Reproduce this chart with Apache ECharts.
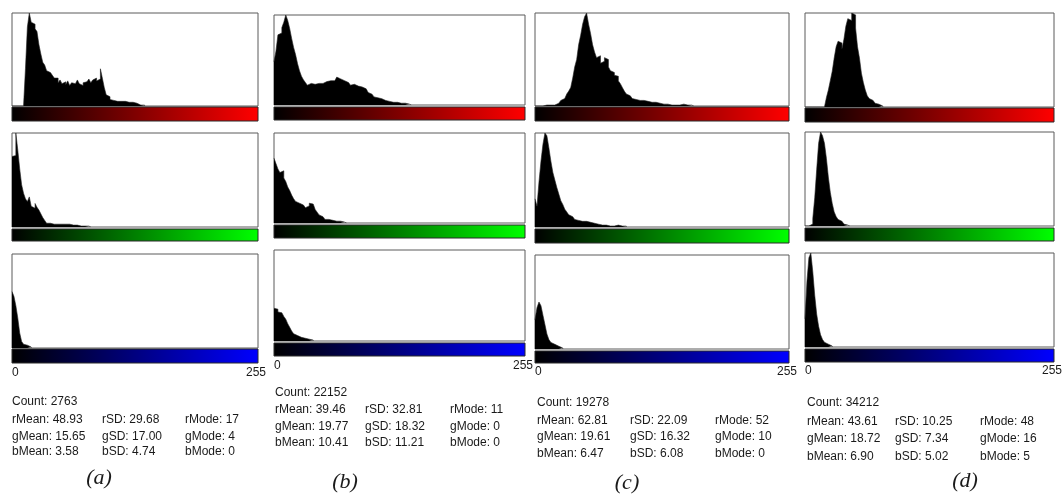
<!DOCTYPE html>
<html>
<head>
<meta charset="utf-8">
<script src="https://cdn.jsdelivr.net/npm/echarts@6/dist/echarts.min.js"></script>
<style>
  html, body { margin: 0; padding: 0; background: #fff; }
  #chart { width: 1062px; height: 494px; }
</style>
</head>
<body>
<div id="chart"></div>
<script>
// histogram heights in % of the box height, one value per 2 grey levels, starting at level 0
const aRed = [0,0,0,0,0,0,0,40,85,100,90,88,83,80,66,56,47,44,38,36,35,33,30,30,25,28,24,26,23,27,22,25,24,22,28,24,22,25,26,24,29,25,28,30,27,29,40,30,20,12,10,7,6,6,5,6,5,4,5,4,4,5,4,4,3,2,1,2,1];
const aGreen = [75,76,100,82,62,45,36,30,27,32,22,20,25,21,18,14,10,7,4,4,3,3,3,3,3,3,3,3,2,3,2,2,2,2,2,1,2,1,1,1,1];
const aBlue = [60,55,45,32,16,7,4,3,2,1];

const bRed = [48,60,78,80,86,92,100,94,85,74,64,56,46,38,32,28,25,22,24,22,23,22,24,23,24,24,26,25,27,28,27,29,31,29,28,27,26,25,24,22,23,21,21,20,20,19,18,16,14,12,10,9,8,7,7,6,5,5,4,4,3,3,3,2,2,2,2,1,1,1];
const bGreen = [72,66,60,56,58,50,46,40,36,31,27,24,22,21,20,19,17,19,22,21,19,15,12,9,7,5,4,4,3,3,3,2,2,2,1,1,1];
const bBlue = [36,35,32,31,30,27,24,19,15,11,8,6,4,4,3,3,2,2,2,1];

const cRed = [0,0,0,0,0,1,1,1,2,1,2,3,4,6,8,10,13,16,20,30,42,50,66,76,88,96,100,88,78,66,58,52,54,46,48,52,50,42,38,36,33,32,27,24,20,16,13,11,9,8,7,7,6,6,6,5,5,5,4,4,4,3,3,3,2,2,2,1,1,1,1,1,1,1,2,1,1,2,1,1];
const cGreen = [30,22,48,70,88,100,97,84,70,58,50,42,35,28,24,19,16,13,11,9,8,7,6,6,6,6,5,5,4,4,3,3,3,2,2,2,2,1,2,1,1,2,1,1,1,1];
const cBlue = [31,44,50,46,36,26,16,10,7,5,4,3,2,1];

const dRed = [0,0,0,0,0,0,0,0,0,0,2,10,18,28,38,52,64,70,68,62,72,86,94,92,100,98,84,64,52,36,26,18,12,9,7,5,4,3,2,1];
const dGreen = [0,0,0,2,8,30,60,88,100,96,88,72,52,36,24,15,10,7,5,3,2,1,1];
const dBlue = [30,70,95,100,80,55,35,22,13,8,5,3,2,1];

const axisLabels = ['0', '255'];
const captions = ['(a)', '(b)', '(c)', '(d)'];
const counts = ['2763', '22152', '19278', '34212'];
const means = [['48.93', '15.65', '3.58'], ['39.46', '19.77', '10.41'], ['62.81', '19.61', '6.47'], ['43.61', '18.72', '6.90']];
const sds = [['29.68', '17.00', '4.74'], ['32.81', '18.32', '11.21'], ['22.09', '16.32', '6.08'], ['10.25', '7.34', '5.02']];
const modes = [['17', '4', '0'], ['11', '0', '0'], ['52', '10', '0'], ['48', '16', '5']];

const hists = [[aRed, aGreen, aBlue], [bRed, bGreen, bBlue], [cRed, cGreen, cBlue], [dRed, dGreen, dBlue]];
const channelEnd = ['#ff0000', '#00ff00', '#0000ff'];
const channelTag = ['r', 'g', 'b'];

// layout in px
const panels = [
  { left: 12, right: 258, boxes: [[13, 106], [133, 227], [254, 348]], grads: [[107, 121], [229, 241], [349, 363]], labelY: 373, textX: [12, 102, 185], textY: [402, 420, 437, 452], cap: [99, 478] },
  { left: 274, right: 525, boxes: [[15, 105], [133, 223], [250, 341]], grads: [[107, 120], [225, 238], [343, 356]], labelY: 366, textX: [275, 365, 450], textY: [393, 410, 427, 443], cap: [345, 482] },
  { left: 535, right: 789, boxes: [[13, 106], [133, 227], [255, 349]], grads: [[107, 121], [229, 243], [351, 363]], labelY: 372, textX: [537, 630, 715], textY: [403, 421, 437, 454], cap: [627, 483] },
  { left: 805, right: 1054, boxes: [[13, 107], [132, 226], [253, 347]], grads: [[108, 122], [228, 241], [349, 362]], labelY: 371, textX: [807, 895, 980], textY: [403, 422, 439, 457], cap: [965, 481] }
];

const statFont = '12px "Liberation Sans", Arial, sans-serif';
const textColor = '#1a1a1a';

function toSteps(arr) {
  const pts = arr.map((v, i) => [i * 2, v]);
  pts.push([arr.length * 2, 0]);
  return pts;
}

const chart = echarts.init(document.getElementById('chart'));

const grid = [], xAxis = [], yAxis = [], series = [], graphic = [];

function addText(text, x, y, font, align) {
  graphic.push({
    type: 'text',
    style: { text, x, y, font, fill: textColor, textAlign: align || 'left', align: align || 'left', textVerticalAlign: 'middle', verticalAlign: 'middle' }
  });
}

panels.forEach((p, pi) => {
  const w = p.right - p.left;
  for (let c = 0; c < 3; c++) {
    const gi = pi * 3 + c;
    const [top, bottom] = p.boxes[c];
    grid.push({ left: p.left, top, width: w, height: bottom - top, show: true, borderColor: '#5a5a5a', borderWidth: 1, backgroundColor: '#fff' });
    xAxis.push({ type: 'value', gridIndex: gi, min: 0, max: 256, show: false });
    yAxis.push({ type: 'value', gridIndex: gi, min: 0, max: 100, show: false });
    series.push({
      type: 'line', xAxisIndex: gi, yAxisIndex: gi,
      data: toSteps(hists[pi][c]),
      step: 'end', showSymbol: false, silent: true,
      lineStyle: { width: 0.6, color: '#222' },
      areaStyle: { color: '#000', opacity: 1 }
    });
    const [gt, gb] = p.grads[c];
    graphic.push({
      type: 'rect',
      shape: { x: p.left, y: gt, width: w, height: gb - gt },
      style: {
        fill: new echarts.graphic.LinearGradient(0, 0, 1, 0, [
          { offset: 0, color: '#000' },
          { offset: 1, color: channelEnd[c] }
        ]),
        stroke: '#2a2a2a', lineWidth: 1
      }
    });
  }
  // 0 / 255 under the blue bar
  addText(axisLabels[0], p.left, p.labelY, statFont, 'left');
  addText(axisLabels[1], p.right - 2, p.labelY, statFont, 'center');

  // stats block
  addText('Count: ' + counts[pi], p.textX[0], p.textY[0], statFont);
  for (let c = 0; c < 3; c++) {
    const y = p.textY[c + 1];
    addText(channelTag[c] + 'Mean: ' + means[pi][c], p.textX[0], y, statFont);
    addText(channelTag[c] + 'SD: ' + sds[pi][c], p.textX[1], y, statFont);
    addText(channelTag[c] + 'Mode: ' + modes[pi][c], p.textX[2], y, statFont);
  }
  addText(captions[pi], p.cap[0], p.cap[1], 'italic 22px "Liberation Serif", "Times New Roman", serif', 'center');
});

chart.setOption({
  animation: false,
  backgroundColor: '#fff',
  grid, xAxis, yAxis, series, graphic
});
</script>
</body>
</html>
